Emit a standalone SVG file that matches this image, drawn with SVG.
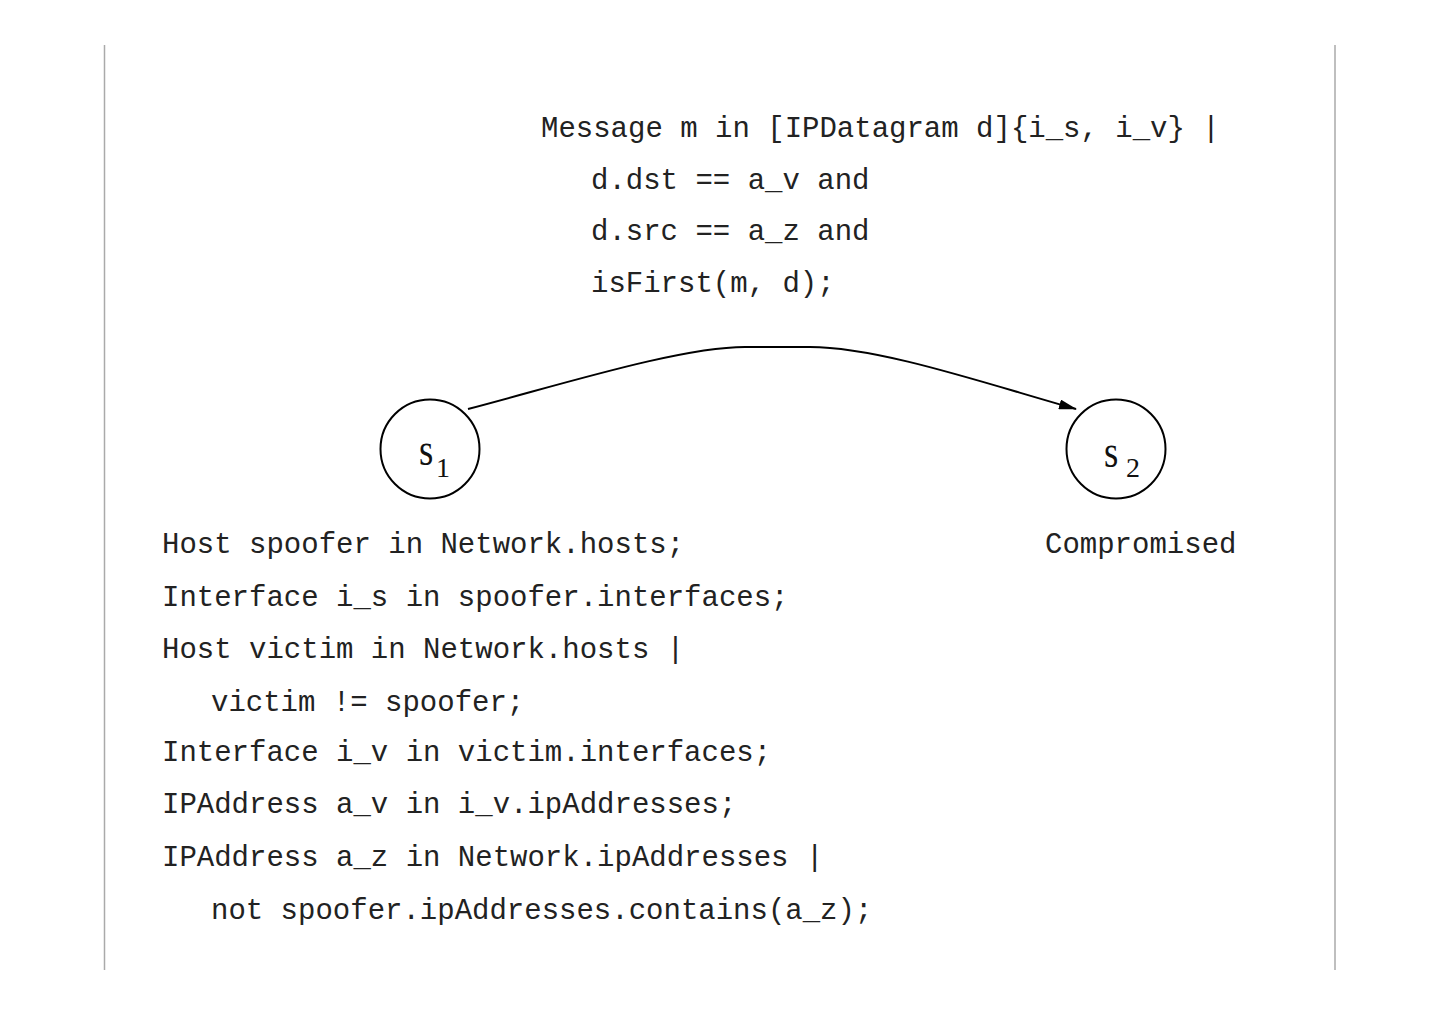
<svg xmlns="http://www.w3.org/2000/svg" width="1440" height="1018" viewBox="0 0 1440 1018">
<style>
.code{font-family:"Liberation Mono","Courier New",monospace;font-size:29px;fill:#222;white-space:pre}
.lbl{font-family:"Liberation Serif","Times New Roman",serif;fill:#111}
.st{fill:none;stroke:#000;stroke-width:2}
.frame{stroke:#aaa;stroke-width:1.5}
</style>
<defs>
<marker id="ah" markerWidth="18" markerHeight="10" refX="17" refY="5" orient="auto" markerUnits="userSpaceOnUse" viewBox="0 0 18 10">
<path d="M0,0 L18,5 L0,10 z" fill="#000"/>
</marker>
</defs>
<rect width="1440" height="1018" fill="#fff"/>
<line class="frame" x1="104.5" y1="45" x2="104.5" y2="970"/>
<line class="frame" x1="1335" y1="45" x2="1335" y2="970"/>
<g id="connectors">
<path class="st" d="M468,409 C560,385 680,347 745,347 L810,347 C880,347 990,385 1076,409" marker-end="url(#ah)"/>
</g>
<g id="transition-label">
<text class="code" x="541" y="137">Message m in [IPDatagram d]{i_s, i_v} |</text>
<text class="code" x="591" y="189">d.dst == a_v and</text>
<text class="code" x="591" y="240">d.src == a_z and</text>
<text class="code" x="591" y="292">isFirst(m, d);</text>
</g>
<g id="s1">
<circle class="st" cx="430" cy="449" r="49.5"/>
<text class="lbl" font-size="46" transform="translate(419,465) scale(0.8,1)">s</text>
<text class="lbl" x="436" y="477" font-size="28">1</text>
</g>
<g id="s2">
<circle class="st" cx="1116" cy="449" r="49.5"/>
<text class="lbl" font-size="46" transform="translate(1104,467) scale(0.8,1)">s</text>
<text class="lbl" x="1126" y="477" font-size="28">2</text>
<text class="code" x="1045" y="553">Compromised</text>
</g>
<g id="s1-declarations">
<text class="code" x="162" y="553">Host spoofer in Network.hosts;</text>
<text class="code" x="162" y="606">Interface i_s in spoofer.interfaces;</text>
<text class="code" x="162" y="658">Host victim in Network.hosts |</text>
<text class="code" x="211" y="711">victim != spoofer;</text>
<text class="code" x="162" y="761">Interface i_v in victim.interfaces;</text>
<text class="code" x="162" y="813">IPAddress a_v in i_v.ipAddresses;</text>
<text class="code" x="162" y="866">IPAddress a_z in Network.ipAddresses |</text>
<text class="code" x="211" y="919">not spoofer.ipAddresses.contains(a_z);</text>
</g>
</svg>
